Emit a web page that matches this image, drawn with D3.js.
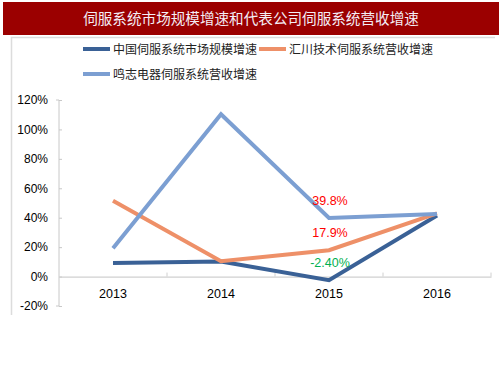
<!DOCTYPE html>
<html>
<head>
<meta charset="utf-8">
<script src="https://cdn.jsdelivr.net/npm/d3@7"></script>
<style>
  body { margin: 0; background: #fff; }
  text { font-family: "Liberation Sans", Arial, "Noto Sans CJK SC", sans-serif; }
  .cjk { font-family: "Noto Sans CJK SC", sans-serif; }
</style>
</head>
<body>
<div id="chart"></div>
<script>
// 伺服系统市场规模增速 / 营收增速
var title = "伺服系统市场规模增速和代表公司伺服系统营收增速";
var years = ["2013", "2014", "2015", "2016"];
var seriesNames = ["中国伺服系统市场规模增速", "汇川技术伺服系统营收增速", "鸣志电器伺服系统营收增速"];
var china = [9.3, 10.2, -2.4, 41.5];
var huichuan = [51.5, 10.4, 17.9, 43.0];
var mingzhi = [19.3, 110.3, 39.8, 42.6];
var yTicks = [-20, 0, 20, 40, 60, 80, 100, 120];
var labels = [
  {series: 2, i: 2, text: "39.8%", color: "#ff0000"},
  {series: 1, i: 2, text: "17.9%", color: "#ff0000"},
  {series: 0, i: 2, text: "-2.40%", color: "#00b050"}
];

var colors = ["#3a6196", "#ee9068", "#7c9fd2"];
var data = [china, huichuan, mingzhi];

var W = 503, H = 378;
var svg = d3.select("#chart").append("svg")
    .attr("width", W).attr("height", H);

/* title bar */
svg.append("rect").attr("x", 3).attr("y", 2).attr("width", 496).attr("height", 33)
    .attr("fill", "#9b0000");
svg.append("text").attr("class", "cjk")
    .attr("x", 251).attr("y", 24).attr("text-anchor", "middle")
    .attr("font-size", 14.6).attr("fill", "#f4eef6")
    .text(title);

/* frame */
svg.append("path").attr("d", "M11.5,315V37.5H495")
    .attr("fill", "none").attr("stroke", "#dcdcdc").attr("stroke-width", 1.5);

/* scales */
var x = d3.scaleBand().domain(years).range([59, 491]);
var y = d3.scaleLinear().domain([-20, 120]).range([306, 100]);
var cx = function(d, i) { return x(years[i]) + x.bandwidth() / 2; };

// Y axis
var yAxis = svg.append("g").attr("transform", "translate(59,0)")
    .call(d3.axisLeft(y).tickValues(yTicks).tickSize(-3).tickPadding(11)
      .tickFormat(function(d) { return d + "%"; }));
yAxis.select(".domain").attr("stroke", "#c8c8c8").attr("d", "M-3," + y(120) + "H0V" + y(-20) + "H-3");
yAxis.selectAll(".tick line").attr("stroke", "#c8c8c8").attr("x1", 0).attr("x2", 3);
yAxis.selectAll("text").attr("font-size", 12).attr("fill", "#000")
    .attr("font-family", "Liberation Sans, Arial, sans-serif");

// X axis at 0
var xAxis = svg.append("g").attr("transform", "translate(0," + y(0) + ")")
    .call(d3.axisBottom(x).tickSize(0).tickPadding(13));
xAxis.select(".domain").attr("stroke", "#d0d0d0").attr("stroke-width", 1.3);
xAxis.selectAll("text").attr("font-size", 12.5).attr("fill", "#000")
    .attr("font-family", "Liberation Sans, Arial, sans-serif");
// category separators
svg.append("g").selectAll("line").data(years.slice(1).concat(["end"])).enter().append("line")
    .attr("x1", function(d, i) { return x(years[0]) + x.bandwidth() * (i + 1); })
    .attr("x2", function(d, i) { return x(years[0]) + x.bandwidth() * (i + 1); })
    .attr("y1", y(0) - 4).attr("y2", y(0))
    .attr("stroke", "#d0d0d0");

/* lines */
var line = d3.line()
    .x(function(d, i) { return cx(d, i); })
    .y(function(d) { return y(d); });

svg.append("g").selectAll("path").data(data).enter().append("path")
    .attr("d", line)
    .attr("fill", "none")
    .attr("stroke", function(d, i) { return colors[i]; })
    .attr("stroke-width", 4);

/* data labels */
svg.append("g").selectAll("text").data(labels).enter().append("text")
    .attr("x", function(d) { return cx(null, d.i) + 1; })
    .attr("y", function(d) { return y(data[d.series][d.i]) - 13; })
    .attr("text-anchor", "middle")
    .attr("font-size", 12.5)
    .attr("fill", function(d) { return d.color; })
    .text(function(d) { return d.text; });

/* legend */
var legendPos = [[83, 49], [259, 49], [83, 74]];
var lg = svg.append("g").selectAll("g").data(seriesNames).enter().append("g")
    .attr("transform", function(d, i) { return "translate(" + legendPos[i][0] + "," + legendPos[i][1] + ")"; });
lg.append("line").attr("x1", 0).attr("x2", 27).attr("y1", 0).attr("y2", 0)
    .attr("stroke", function(d, i) { return colors[i]; }).attr("stroke-width", 4);
lg.append("text").attr("class", "cjk").attr("x", 30).attr("y", 4.5)
    .attr("font-size", 12).attr("fill", "#222")
    .text(function(d) { return d; });
</script>
</body>
</html>
